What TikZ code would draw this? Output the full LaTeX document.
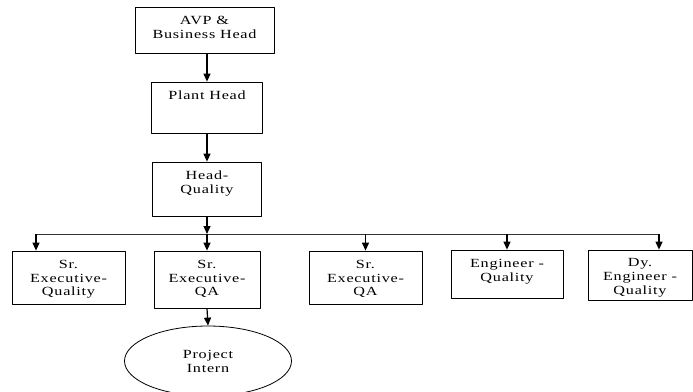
\documentclass[tikz,border=0pt]{standalone}
\usepackage{fontspec}
\setmainfont{Liberation Serif}[FakeStretch=1.3,LetterSpace=6]
\usetikzlibrary{arrows.meta,shapes.geometric}

\begin{document}
\begin{tikzpicture}[x=1bp,y=-1bp,>={Triangle[width=7bp,length=8bp]},line join=round,font=\fontsize{12.5}{14}\selectfont]
	\useasboundingbox (0,0) rectangle (693,391);
	\tikzset{post/.style={draw,line width=.8bp,inner sep=0pt},
		posttext/.style={anchor=north,inner sep=0pt,align=center},
		link/.style={->,line width=1.2bp}}
	\newcommand{\drawpost}[6]{
		% Khung chức danh
		\node[post,minimum width=#4bp,minimum height=#5bp] (#1) at (#2,#3) {};
		\node[posttext] (#1-t) at ([yshift=-9bp]#1.north) {#6};
	}
	% Cấp trên
	\drawpost{avp}{204.5}{30}{139}{46}{AVP \&\\Business Head}
	\drawpost{plant}{207}{107.5}{111}{51}{Plant Head}
	\drawpost{headq}{207}{189}{109}{54}{Head-\\Quality}
	% Cấp dưới
	\drawpost{srexq}{68.5}{277.5}{113}{53}{Sr.\\Executive-\\Quality}
	\drawpost{srexqa}{207}{279.5}{106}{57}{Sr.\\Executive-\\QA}
	\drawpost{srexqb}{365.5}{277.5}{113}{53}{Sr.\\Executive-\\QA}
	\drawpost{engq}{507}{274}{112}{48}{Engineer -\\Quality}
	\drawpost{dyeng}{640}{275}{104}{50}{Dy.\\Engineer -\\Quality}
	\node[post,ellipse,minimum width=167bp,minimum height=70bp,align=center] (intern) at (208,361) {Project\\Intern};
	% Mũi tên
	\draw[link] (plant.north |- avp.south) -- (plant.north);
	\draw[link] (plant.south) -- (headq.north);
	\coordinate (bus) at (207,234);
	\coordinate (busL) at (36,234);
	\coordinate (busR) at (659,234);
	\draw[link] (headq.south) -- (bus);
	\draw[line width=.8bp,black!80] (busL) -- (busR);
	\draw[link] (busL) -- (busL |- srexq.north);
	\draw[link] (bus) -- (srexqa.north);
	\draw[link] (srexqb.north |- bus) -- (srexqb.north);
	\draw[link] (engq.north |- bus) -- (engq.north);
	\draw[link] (busR) -- (busR |- dyeng.north);
	\draw[link] (srexqa.south) -- (intern.north);
\end{tikzpicture}
\end{document}
